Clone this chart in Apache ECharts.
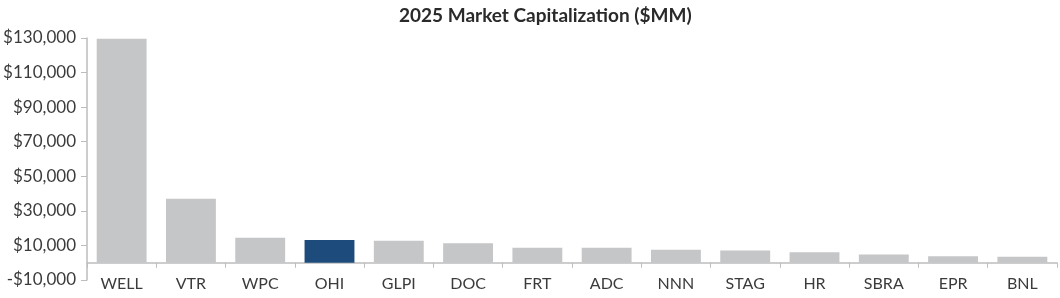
<!DOCTYPE html>
<html><head><meta charset="utf-8">
<script src="https://cdn.jsdelivr.net/npm/echarts@6/dist/echarts.min.js"></script>
<style>html,body{margin:0;padding:0;background:#fff}#c{width:1060px;height:298px}</style>
</head><body><div id="c"></div>
<script>
const categories = ['WELL','VTR','WPC','OHI','GLPI','DOC','FRT','ADC','NNN','STAG','HR','SBRA','EPR','BNL'];
const marketCap = [129500, 37000, 14400, 13100, 12700, 11300, 8700, 8600, 7500, 7100, 6100, 4800, 3800, 3500];
const highlight = 'OHI';
const yTicks = [-10000, 10000, 30000, 50000, 70000, 90000, 110000, 130000];
const titleText = '2025 Market Capitalization ($MM)';

const textColor = '#3b3b3b';
const axisColor = '#bdbdbd';
const chart = echarts.init(document.getElementById('c'));
function fmt(v){ const s = Math.abs(v).toLocaleString('en-US'); return (v<0?'-$':'$')+s; }
chart.setOption({
  animation:false,
  title:{text:titleText,left:394,top:1,textStyle:{fontFamily:'Lato',fontWeight:'bold',fontSize:19,color:'#2a2a2a'}},
  grid:{left:87,right:3,top:38,bottom:18,containLabel:false,outerBoundsMode:'none'},
  xAxis:{type:'category',data:categories,
    axisLine:{onZero:true,lineStyle:{color:axisColor,width:1.5}},
    axisTick:{show:true,alignWithLabel:false,length:5,lineStyle:{color:axisColor}},
    axisLabel:{color:textColor,fontFamily:'Lato',fontSize:16,margin:-4}},
  yAxis:{type:'value',min:-10000,max:130000,
    splitLine:{show:false},
    axisLine:{show:true,lineStyle:{color:axisColor,width:1.5}},
    axisTick:{show:true,length:6,customValues:yTicks,lineStyle:{color:axisColor}},
    axisLabel:{customValues:yTicks,formatter:fmt,color:textColor,fontFamily:'Lato',fontSize:17,margin:11}},
  series:[{type:'bar',barCategoryGap:'28%',
    data:marketCap.map((v,i)=>({value:v,itemStyle:{color:categories[i]===highlight?'#1d4b7c':'#c5c6c8'}}))}]
});
</script></body></html>
